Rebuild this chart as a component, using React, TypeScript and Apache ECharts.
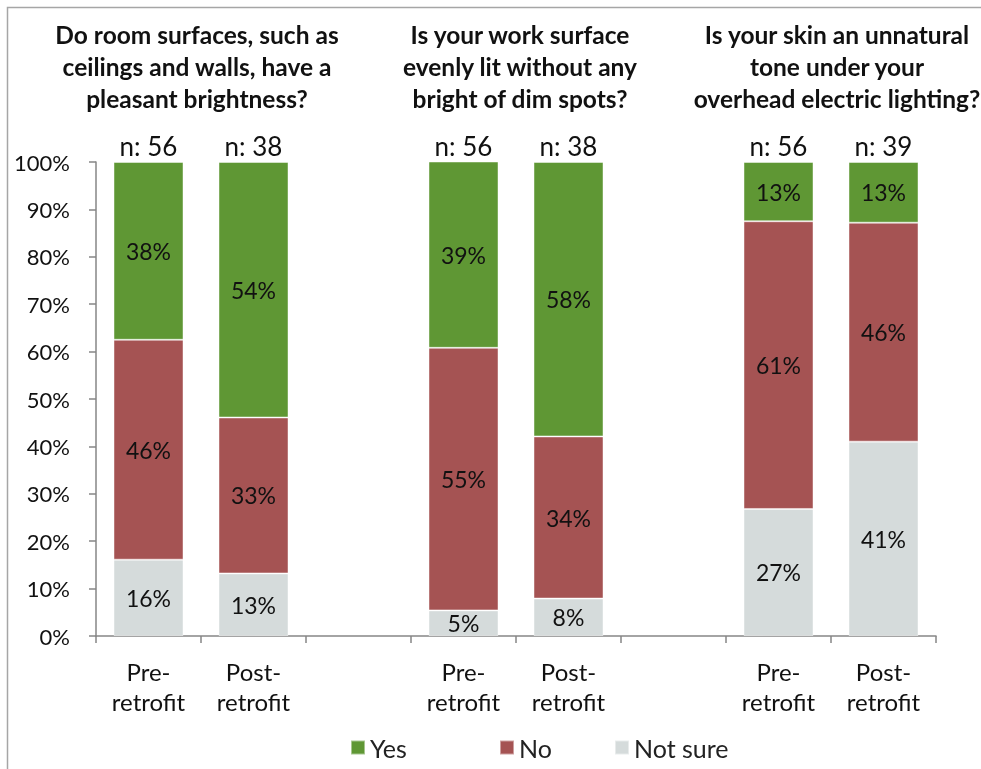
import React, { useEffect, useRef } from "react";
import * as echarts from "echarts";

const categories = ["Pre-\nretrofit", "Post-\nretrofit", "", "Pre-\nretrofit", "Post-\nretrofit", "", "Pre-\nretrofit", "Post-\nretrofit"];
const notSureValues = [16.1, 13.2, null, 5.4, 7.9, null, 26.8, 41.0];
const noValues = [46.4, 32.9, null, 55.4, 34.2, null, 60.7, 46.2];
const yesValues = [37.5, 53.9, null, 39.3, 57.9, null, 12.5, 12.8];
const nValues = [56, 38, null, 56, 38, null, 56, 39];
const questions = [
  "Do room surfaces, such as\nceilings and walls, have a\npleasant brightness?",
  "Is your work surface\nevenly lit without any\nbright of dim spots?",
  "Is your skin an unnatural\ntone under your\noverhead electric lighting?",
];
const legendNames = ["Yes", "No", "Not sure"];
const yTicks = [0, 10, 20, 30, 40, 50, 60, 70, 80, 90, 100];

const FONT = "Lato, 'Open Sans', sans-serif";
const TITLE_X = [197, 520, 837];
const LEGEND_X = [345, 494, 609];

export default function App() {
  const ref = useRef<HTMLDivElement>(null);
  useEffect(() => {
    if (!ref.current) return;
    const chart = echarts.init(ref.current, null, { renderer: "svg" });
    const pctLabel = {
      show: true,
      position: "inside",
      fontSize: 23,
      color: "#111",
      fontFamily: FONT,
      formatter: (p: any) => `${Math.round(p.value)}%`,
    };
    const barCommon = {
      type: "bar",
      stack: "total",
      barWidth: 70,
      label: pctLabel,
      itemStyle: { borderColor: "rgba(255,255,255,0.45)", borderWidth: 1 },
    };
    const gridLeft = 96;
    const gridRight = 936;
    chart.setOption({
      animation: false,
      textStyle: { fontFamily: FONT },
      grid: { left: gridLeft, right: 981 - gridRight, top: 162, bottom: 769 - 636, containLabel: false },
      legend: legendNames.map((name, i) => ({
        data: [name],
        bottom: 4,
        left: LEGEND_X[i],
        icon: "rect",
        itemWidth: 14,
        itemHeight: 14,
        itemGap: 6,
        textStyle: { fontSize: 25, color: "#222", fontFamily: FONT },
      })),
      xAxis: {
        type: "category",
        data: categories,
        axisLine: { lineStyle: { color: "#868686", width: 1.5 } },
        axisTick: { show: true, length: 7, alignWithLabel: false, lineStyle: { color: "#868686", width: 1.5 } },
        axisLabel: { fontSize: 24, color: "#111", lineHeight: 30, margin: 20, interval: 0, fontFamily: FONT },
      },
      yAxis: {
        type: "value",
        min: 0,
        max: 100,
        interval: 10,
        axisLine: { show: true, lineStyle: { color: "#868686", width: 1.5 } },
        axisTick: { show: true, length: 7, lineStyle: { color: "#868686", width: 1.5 } },
        splitLine: { show: false },
        axisLabel: {
          fontSize: 22,
          color: "#111",
          margin: 26,
          fontFamily: FONT,
          formatter: (v: number) => (yTicks.includes(v) ? `${v}%` : ""),
        },
      },
      series: [
        { ...barCommon, name: "Not sure", data: notSureValues, itemStyle: { ...barCommon.itemStyle, color: "#d5dbdb" } },
        { ...barCommon, name: "No", data: noValues, itemStyle: { ...barCommon.itemStyle, color: "#a55353" } },
        { ...barCommon, name: "Yes", data: yesValues, itemStyle: { ...barCommon.itemStyle, color: "#5f9734" } },
        {
          type: "scatter",
          name: "n",
          data: nValues.map((n) => (n == null ? null : 100)),
          symbolSize: 0,
          clip: false,
          silent: true,
          itemStyle: { opacity: 1, color: "#111" },
          label: {
            show: true,
            position: "top",
            distance: 3,
            fontSize: 26,
            color: "#111",
            opacity: 1,
            fontFamily: FONT,
            formatter: (p: any) => `n: ${nValues[p.dataIndex]}`,
          },
        },
      ],
      graphic: [
        {
          type: "rect",
          shape: { x: 7.5, y: 7.5, width: 1200, height: 1000 },
          style: { fill: "none", stroke: "#a6a6a6", lineWidth: 1.5 },
          silent: true,
        },
        ...questions.map((q, i) => ({
          type: "text",
          x: TITLE_X[i],
          y: 18,
          style: {
            text: q,
            align: "center",
            verticalAlign: "top",
            font: `bold 24.5px ${FONT}`,
            lineHeight: 32,
            fill: "#111",
          },
        })),
      ],
    });
    return () => chart.dispose();
  }, []);
  return <div ref={ref} style={{ position: "fixed", left: 0, top: 0, width: 981, height: 769 }} />;
}
